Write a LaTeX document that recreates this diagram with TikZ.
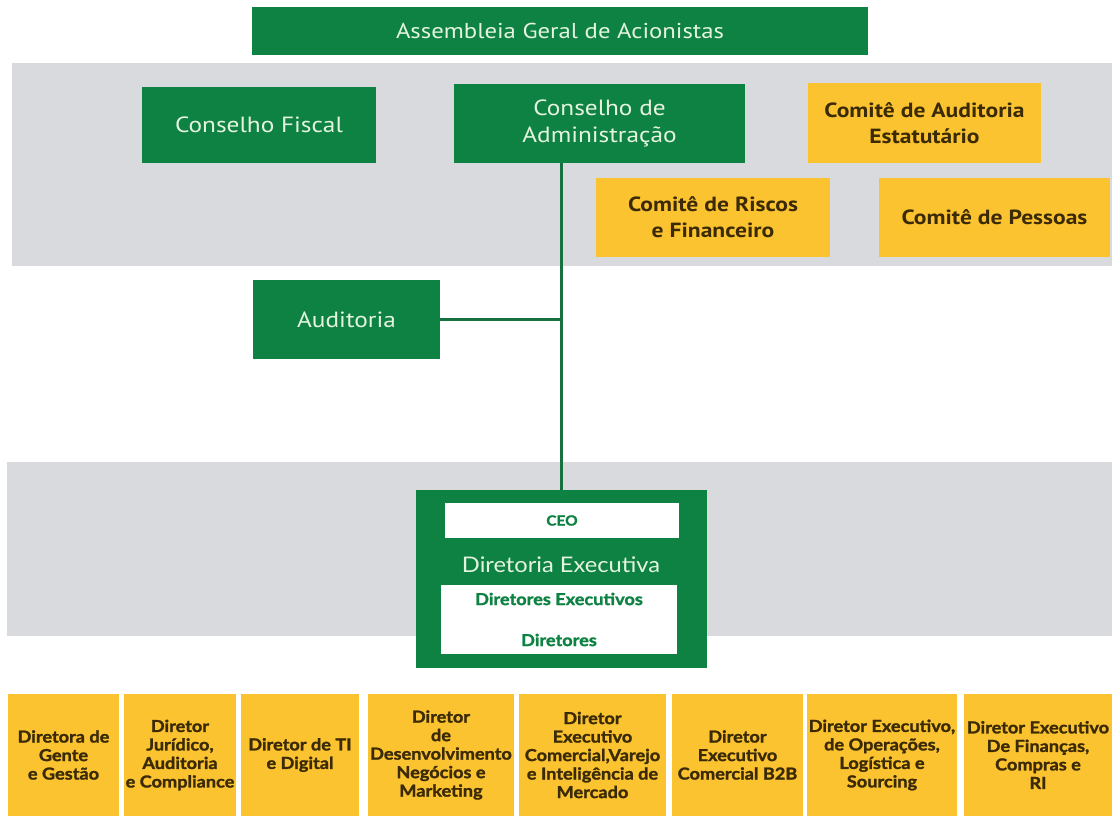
\documentclass[tikz,border=0pt]{standalone}
\usepackage{fontspec}
\setmainfont{PT Sans}[FakeStretch=1.15]
\newfontfamily\lowfont{Lato}[FakeStretch=1.1, BoldFeatures={FakeBold=1.5}]
\usetikzlibrary{positioning}
\definecolor{agGreen}{HTML}{0E8243}
\definecolor{agLine}{HTML}{17703F}
\definecolor{agYellow}{HTML}{FCC330}
\definecolor{agGray}{HTML}{D8DADD}
\definecolor{agInk}{HTML}{3A2A06}
\definecolor{agPale}{HTML}{E4F4DF}

\begin{document}
\begin{tikzpicture}[
  x=1pt, y=-1pt,
  gbox/.style={fill=agGreen, text=agPale, align=center, inner sep=0pt,
               font=\fontsize{22}{27}\selectfont},
  ybox/.style={fill=agYellow, text=agInk, align=center, inner sep=0pt,
               font=\bfseries\fontsize{20.5}{26}\selectfont},
  wbox/.style={fill=white, text=agGreen, align=center, inner sep=0pt,
               font=\lowfont\bfseries\fontsize{16.5}{17}\selectfont},
  dbox/.style={fill=agYellow, text=agInk, align=center, inner sep=0pt,
               minimum height=122pt, font=\lowfont\bfseries\fontsize{16.5}{18.5}\selectfont},
  link/.style={draw=agLine, line width=3.5pt},
]
\useasboundingbox (0,0) rectangle (1112,816);

% gray bands
\fill[agGray] (12,63) rectangle (1112,266);
\fill[agGray] (7,462) rectangle (1112,636);

% governance
\node[gbox, minimum width=616pt, minimum height=48pt, font=\fontsize{21.5}{24}\selectfont] (asm) at (560,31) {Assembleia Geral de Acionistas};
\node[gbox, minimum width=234pt, minimum height=76pt] (fiscal) at (259,125) {Conselho Fiscal};
\node[gbox, minimum width=291pt, minimum height=79pt] (conselho) at (599.5,123.5) {Conselho de\\Administração};
\node[ybox, minimum width=233pt, minimum height=80pt] (cae) at (924.5,123) {Comitê de Auditoria\\Estatutário};
\node[ybox, minimum width=234pt, minimum height=79pt] (riscos) at (713,217.5) {Comitê de Riscos\\e Financeiro};
\node[ybox, minimum width=231pt, minimum height=79pt] (pessoas) at (994.5,217.5) {Comitê de Pessoas};
\node[gbox, minimum width=187pt, minimum height=79pt] (aud) at (346.5,319.5) {Auditoria};

% executive board
\node[gbox, minimum width=291pt, minimum height=178pt] (dir) at (561.5,579) {};
\node[wbox, minimum width=234pt, minimum height=35pt, font=\lowfont\bfseries\fontsize{14}{16}\selectfont] (ceo) at (562,520.5) {CEO};
\node[text=agPale, font=\lowfont\fontsize{21.5}{24}\selectfont, inner sep=0pt] (dirtxt) at (561,565) {Diretoria Executiva};
\node[wbox, minimum width=236pt, minimum height=69pt] (dirs) at (559,619.5) {Diretores Executivos\\[24pt]Diretores};

\draw[link] (conselho.south -| dir.north) -- (dir.north);
\draw[link] (aud.east) -- (aud.east -| dir.north);

% directors row
\node[dbox, minimum width=111pt] (d1) at (63.5,755) {Diretora de\\Gente\\e Gestão};
\node[dbox, minimum width=112pt] (d2) at (180,755) {Diretor\\Jurídico,\\Auditoria\\e Compliance};
\node[dbox, minimum width=118pt] (d3) at (300,755) {Diretor de TI\\e Digital};
\node[dbox, minimum width=146pt] (d4) at (441,755) {Diretor\\de\\Desenvolvimento\\Negócios e\\Marketing};
\node[dbox, minimum width=147pt] (d5) at (592.5,755) {Diretor\\Executivo\\Comercial,Varejo\\e Inteligência de\\Mercado};
\node[dbox, minimum width=131pt] (d6) at (737.5,755) {Diretor\\Executivo\\Comercial B2B};
\node[dbox, minimum width=150pt] (d7) at (882,755) {Diretor Executivo,\\de Operações,\\Logística e\\Sourcing};
\node[dbox, minimum width=148pt] (d8) at (1038,755) {Diretor Executivo\\De Finanças,\\Compras e\\RI};
\end{tikzpicture}
\end{document}
